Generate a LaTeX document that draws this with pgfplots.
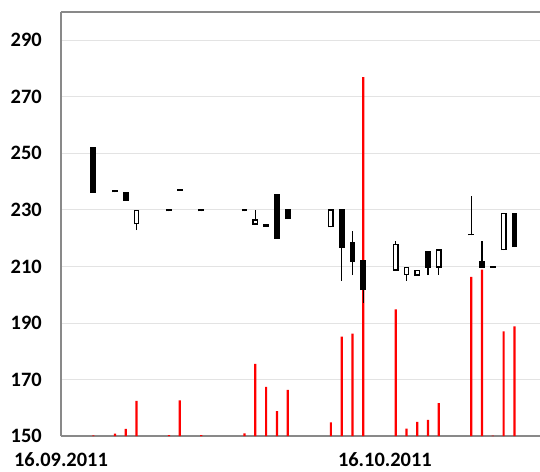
\documentclass[border=0pt]{standalone}
\usepackage{pgfplots}
\usepackage{pgfplotstable}
\pgfplotsset{compat=1.18}
\usepackage{fontspec}
\setmainfont{Carlito}
\definecolor{axgray}{HTML}{898989}
\definecolor{gridgray}{HTML}{E3E3E3}
% day, low, body low, body high, high
\pgfplotstableread{
d low bl bh high
3 236 236 252.3 252.3
5 236.2 236.2 236.9 236.9
6 233.2 233.2 236.2 236.2
7 222.8 224.9 230.1 230.1
10 229.5 229.5 230.2 230.2
11 236.8 236.8 237.5 237.5
13 229.5 229.5 230.2 230.2
17 229.5 229.5 230.2 230.2
18 224.7 224.7 226.7 229.9
19 224 224 225.1 225.1
20 219.7 219.7 235.6 235.6
21 226.7 226.7 230.2 230.2
25 223.8 223.8 230.2 230.2
26 204.9 216.6 230.2 230.2
27 206.9 211.6 218.6 222.4
28 197.1 201.6 212.1 212.1
31 208.5 208.5 217.9 219
32 204.9 206.9 209.9 209.9
33 206.7 206.7 208.9 208.9
34 206.9 209.6 215.5 215.5
35 207 209.6 216 216
38 221 221 221.6 234.9
39 209.6 209.6 212 219
40 209.5 209.5 210.1 210.1
41 215.8 215.8 229 229
42 216.8 216.8 229 229
}\candles
% rising days (hollow bodies)
\pgfplotstableread{
d bl bh
7 224.9 230.1
18 224.7 226.7
25 223.8 230.2
31 208.5 217.9
32 206.9 209.9
33 206.7 208.9
35 209.6 216
41 215.8 229
}\ups
\pgfplotstableread{
d vol
3 150.2
5 150.8
6 152.5
7 162.4
10 150.3
11 162.6
13 150.3
17 150.9
18 175.5
19 167.4
20 158.8
21 166.3
25 154.8
26 185.2
27 186.2
28 277.0
31 194.8
32 152.6
33 155.0
34 155.7
35 161.6
38 206.3
39 208.9
40 150.1
41 187.0
42 188.8
}\volumes
\begin{document}
\begin{tikzpicture}
\begin{axis}[
 scale only axis, width=479bp, height=424bp,
 xmin=0, xmax=44.37, ymin=150, ymax=300,
 axis x line*=box, axis y line*=left,
 axis line style={axgray, line width=1.3pt},
 ytick={150,170,...,290},
 xtick={0,30}, xticklabels={16.09.2011,16.10.2011},
 major tick length=0pt,
 ymajorgrids, grid style={gridgray, line width=0.8pt},
 tick label style={font=\fontsize{20.5}{24}\selectfont\bfseries},
 /pgf/number format/assume math mode=true,
 yticklabel style={anchor=east, inner sep=0pt, xshift=-19bp},
 xticklabel style={anchor=north, inner sep=0pt, yshift=-16bp},
]
\coordinate (A) at (rel axis cs:0,0);
\addplot[ybar, bar width=2.2bp, bar shift=0pt, fill=red, draw=none] table[x=d, y=vol] {\volumes};
% wicks
\addplot[draw=none, mark=none, error bars/.cd, y dir=plus, y explicit, error mark=none,
  error bar style={draw=black, line width=1.3pt}]
  table[x=d, y=low, y error expr=\thisrow{high}-\thisrow{low}] {\candles};
% bodies
\addplot[draw=none, mark=none, error bars/.cd, y dir=plus, y explicit, error mark=none,
  error bar style={draw=black, line width=5.8bp}]
  table[x=d, y=bl, y error expr=\thisrow{bh}-\thisrow{bl}] {\candles};
% hollow interiors of rising candles
\addplot[draw=none, mark=none, error bars/.cd, y dir=plus, y explicit, error mark=none,
  error bar style={draw=white, line width=3.2bp}]
  table[x=d, y expr=\thisrow{bl}+0.5, y error expr=\thisrow{bh}-\thisrow{bl}-1.0] {\ups};
\end{axis}
\pgfresetboundingbox
\path ([shift={(-61bp,-36bp)}]A) rectangle ++(540bp,472bp);
\end{tikzpicture}
\end{document}
